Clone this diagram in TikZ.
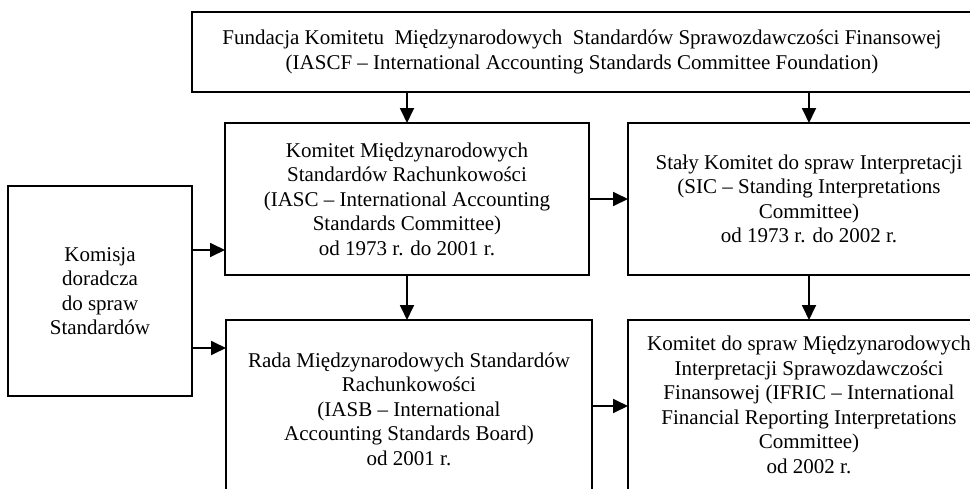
\documentclass[tikz,border=0pt]{standalone}
\usepackage{fontspec}
\setmainfont{Liberation Serif}
\usetikzlibrary{arrows.meta,positioning}
\begin{document}
\begin{tikzpicture}[x=1pt,y=-1pt,
  box/.style={draw,line width=1.8pt,inner sep=0pt,outer sep=0pt,align=center,
    font=\fontsize{21}{24.5}\selectfont},
  arr/.style={line width=1.8pt,-{Triangle[length=15pt,width=14pt]}}]
\useasboundingbox (0,0) rectangle (970,488);
\clip (0,0) rectangle (970,488);
\fill[white] (0,0) rectangle (970,488);
% boxes
\node[box,minimum width=780pt,minimum height=80pt] (top) at (582,52)
  {Fundacja Komitetu\ \ Międzynarodowych\ \ Standardów Sprawozdawczości Finansowej\\
   (IASCF -- International Accounting Standards Committee Foundation)};
\node[box,minimum width=364pt,minimum height=152pt] (iasc) at (407,199)
  {Komitet Międzynarodowych\\Standardów Rachunkowości\\(IASC -- International Accounting\\Standards Committee)\\od 1973 r. do 2001 r.};
\node[box,minimum width=362pt,minimum height=152pt] (sic) at (809,199)
  {Stały Komitet do spraw Interpretacji\\(SIC -- Standing Interpretations\\Committee)\\od 1973 r. do 2002 r.};
\node[box,minimum width=184pt,minimum height=210pt] (kom) at (100,291)
  {Komisja\\doradcza\\do spraw\\Standardów};
\node[box,minimum width=366pt,minimum height=178pt] (iasb) at (409,409)
  {Rada Międzynarodowych Standardów\\Rachunkowości\\(IASB -- International\\Accounting Standards Board)\\od 2001 r.};
\node[box,minimum width=362pt,minimum height=170pt] (ifric) at (809,405)
  {Komitet do spraw Międzynarodowych\\Interpretacji Sprawozdawczości\\Finansowej (IFRIC -- International\\Financial Reporting Interpretations\\Committee)\\od 2002 r.};
% connectors
\draw[arr] (top.south -| iasc.north) -- (iasc.north);
\draw[arr] (top.south -| sic.north) -- (sic.north);
\draw[arr] (iasc.east) -- (sic.west);
\draw[arr] (iasc.south) -- (iasc.south |- iasb.north);
\draw[arr] (sic.south) -- (sic.south |- ifric.north);
\draw[arr] (iasb.east |- 0,406) -- (ifric.west |- 0,406);
\draw[arr] (kom.east |- 0,250) -- (iasc.west |- 0,250);
\draw[arr] (kom.east |- 0,348) -- (iasb.west |- 0,348);
\end{tikzpicture}
\end{document}
